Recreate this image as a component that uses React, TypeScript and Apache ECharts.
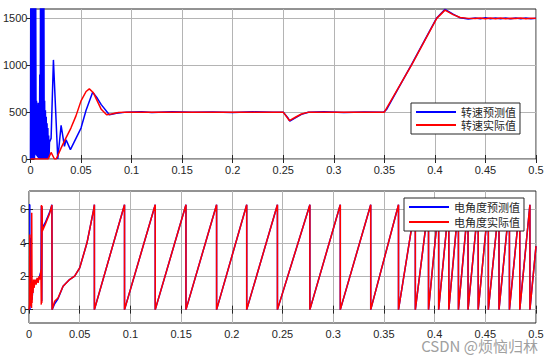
import React, { useEffect, useRef } from "react";
import * as echarts from "echarts";

// ---------- axis settings ----------
const xMin = 0;
const xMax = 0.5;
const xStep = 0.05;
const speedMin = 0;
const speedMax = 1600;
const speedTicks = [0, 500, 1000, 1500];
const angleMin = -0.8;
const angleMax = 7.1;
const angleTicks = [0, 2, 4, 6];

// ---------- legend names ----------
const speedNames = ["转速预测值", "转速实际值"];
const angleNames = ["电角度预测值", "电角度实际值"];

// ---------- speed (rpm) : [time s, value] ----------
const speedPred: [number, number][] = [
  [0, 0], [0.0004, 2400], [0.0008, 0], [0.0012, 2600], [0.0016, 0], [0.002, 2500],
  [0.0024, 0], [0.0028, 2300], [0.0032, 0], [0.0036, 2200], [0.004, 0], [0.0044, 2000],
  [0.0048, 50], [0.0052, 1700], [0.0056, 40], [0.006, 620], [0.0064, 30], [0.0068, 580],
  [0.0072, 20], [0.0076, 600], [0.008, 10], [0.0084, 560], [0.0088, 0], [0.0092, 900],
  [0.0096, 0], [0.01, 2200], [0.0104, 0], [0.0108, 2400], [0.0112, 0], [0.0116, 2600],
  [0.012, 0], [0.0124, 2500], [0.0128, 0], [0.0132, 2200], [0.0136, 0], [0.014, 620],
  [0.0144, 0], [0.0148, 520], [0.0152, 0], [0.0156, 450], [0.016, 0], [0.0164, 380],
  [0.0168, 0], [0.0172, 330], [0.0176, 0], [0.018, 250], [0.0184, 20], [0.0188, 180],
  [0.0204, 220], [0.0227, 1057], [0.027, 0], [0.0303, 358], [0.0336, 135], [0.0352, 205],
  [0.0395, 100], [0.045, 220], [0.05, 330], [0.055, 520], [0.0615, 713], [0.066, 650],
  [0.07, 580], [0.078, 472], [0.085, 488], [0.095, 500], [0.11, 503], [0.12, 497],
  [0.14, 503], [0.16, 498], [0.18, 502], [0.2, 497], [0.22, 503], [0.24, 499],
  [0.25, 500], [0.2545, 440], [0.2565, 405], [0.262, 438], [0.268, 476], [0.275, 499],
  [0.29, 503], [0.31, 497], [0.33, 502], [0.349, 498], [0.352, 525], [0.377, 1010],
  [0.4018, 1505], [0.41, 1596], [0.418, 1545], [0.425, 1506], [0.433, 1494], [0.44, 1503],
  [0.445, 1496], [0.45, 1506], [0.455, 1495], [0.46, 1505], [0.465, 1496], [0.47, 1504],
  [0.475, 1495], [0.48, 1505], [0.485, 1496], [0.49, 1504], [0.495, 1497], [0.5, 1502],
];

const speedReal: [number, number][] = [
  [0, 0], [0.0175, 0], [0.0204, 70], [0.0237, 0], [0.0255, 0], [0.03, 110],
  [0.0335, 190], [0.04, 330], [0.045, 460], [0.05, 620], [0.055, 720], [0.0582, 748],
  [0.062, 710], [0.066, 620], [0.07, 530], [0.0753, 472], [0.08, 480], [0.087, 495],
  [0.095, 500], [0.15, 500], [0.2, 500], [0.25, 500], [0.2561, 410], [0.262, 445],
  [0.268, 480], [0.275, 500], [0.3, 500], [0.35, 500], [0.377, 1003], [0.4018, 1500],
  [0.41, 1588], [0.418, 1540], [0.425, 1510], [0.433, 1500], [0.44, 1498], [0.445, 1503],
  [0.45, 1497], [0.455, 1504], [0.46, 1496], [0.465, 1503], [0.47, 1497], [0.475, 1502],
  [0.48, 1498], [0.485, 1503], [0.49, 1497], [0.495, 1502], [0.5, 1500],
];

// ---------- electrical angle (rad) ----------
const anglePredStart: [number, number][] = [
  [0, 6.28], [0.0008, 6.28], [0.0009, 0], [0.0012, 4.3], [0.0016, 0.3], [0.002, 1.2],
  [0.003, 0.6], [0.004, 1.4], [0.006, 1.7], [0.008, 1.8], [0.010, 1.9], [0.0118, 2.3],
  [0.0122, 6.2], [0.0126, 0.5], [0.0129, 6.1], [0.0131, 4.9], [0.016, 5.2],
  [0.0205, 5.85], [0.0226, 6.28], [0.0228, 0], [0.0253, 0.35], [0.0286, 0.65],
  [0.0336, 1.4], [0.04, 1.8], [0.045, 2.0], [0.05, 2.5], [0.0572, 4.0], [0.0638, 6.0],
];

const angleRealStart: [number, number][] = [
  [0, 0], [0.0005, 0.3], [0.0008, 4.5], [0.001, 0.5], [0.0015, 1.6], [0.0018, 0.2],
  [0.0022, 1.5], [0.0025, 0.1], [0.0027, 5.8], [0.003, 0.4], [0.0035, 1.5], [0.004, 1.0],
  [0.0045, 1.8], [0.005, 1.3], [0.006, 1.8], [0.007, 1.5], [0.008, 1.9], [0.009, 1.6],
  [0.01, 2.0], [0.011, 1.8], [0.0118, 2.4], [0.0121, 0.3], [0.0123, 6.26], [0.0126, 0.4],
  [0.0129, 6.2], [0.0131, 4.7], [0.016, 5.1], [0.0204, 5.76], [0.0226, 6.26], [0.0228, 0],
  [0.0253, 0.5], [0.0286, 0.7], [0.0336, 1.4], [0.04, 1.8], [0.045, 2.0], [0.05, 2.5],
  [0.0572, 4.0], [0.0638, 6.0],
];

// times where the angle wraps from 2π back to 0
const angleWraps = [
  0.0645, 0.0942, 0.1245, 0.1548, 0.185, 0.2147, 0.245, 0.277, 0.307, 0.337,
  0.3644, 0.381, 0.394, 0.404, 0.414, 0.4235, 0.433, 0.443, 0.453, 0.4635,
  0.4738, 0.484, 0.494,
];
const angleTop = 6.28;
const angleAtEnd = 3.8;

function buildAngle(start: [number, number][]): [number, number][] {
  const pts: [number, number][] = start.slice();
  for (let i = 0; i < angleWraps.length; i++) {
    pts.push([angleWraps[i], angleTop]);
    pts.push([angleWraps[i], 0]);
  }
  pts.push([xMax, angleAtEnd]);
  return pts;
}

const FONT = "'Liberation Sans', Arial, sans-serif";
const CJK = "'Noto Sans CJK SC', sans-serif";
const AX = "#262626";
const GRIDC = "#b4b4b4";

function xAxisCfg(gridIndex: number, top = false): any {
  return {
    type: "value",
    gridIndex,
    position: top ? "top" : "bottom",
    min: xMin,
    max: xMax,
    interval: xStep,
    axisLine: { show: false },
    axisTick: { show: true, inside: true, length: 4, lineStyle: { color: AX } },
    axisLabel: top
      ? { show: false }
      : {
          show: true,
          fontSize: 11,
          fontFamily: FONT,
          color: AX,
          margin: 5,
          formatter: (v: number) => String(+v.toFixed(2)),
        },
    splitLine: top ? { show: false } : { show: true, lineStyle: { color: GRIDC, width: 1 } },
  };
}

function yAxisCfg(gridIndex: number, min: number, max: number, ticks: number[], right = false): any {
  return {
    type: "value",
    gridIndex,
    position: right ? "right" : "left",
    min,
    max,
    axisLine: { show: false },
    axisTick: {
      show: true,
      inside: true,
      length: 4,
      lineStyle: { color: AX },
      customValues: ticks,
    },
    axisLabel: right
      ? { show: false, customValues: ticks }
      : {
          show: true,
          fontSize: 11,
          fontFamily: FONT,
          color: AX,
          margin: 3,
          customValues: ticks,
          formatter: (v: number) => String(v),
        },
    splitLine: right
      ? { show: false }
      : { show: true, customValues: ticks, lineStyle: { color: GRIDC, width: 1 } },
  };
}

function lineSeries(name: string, data: [number, number][], color: string, axisIdx: number): any {
  return {
    type: "line",
    name,
    data,
    xAxisIndex: axisIdx,
    yAxisIndex: axisIdx,
    showSymbol: false,
    symbol: "none",
    clip: true,
    lineStyle: { color, width: 1.5 },
    itemStyle: { color },
    emphasis: { disabled: true },
  };
}

export default function App() {
  const ref = useRef<HTMLDivElement>(null);
  useEffect(() => {
    if (!ref.current) return;
    const chart = echarts.init(ref.current, undefined, { renderer: "svg" });
    const legendBase = {
      orient: "vertical",
      icon: "rect",
      itemWidth: 40,
      itemHeight: 2,
      borderColor: AX,
      borderWidth: 1,
      backgroundColor: "#fff",
      selectedMode: false,
      textStyle: { fontSize: 11, fontFamily: CJK, color: AX, lineHeight: 12 },
    };
    chart.setOption({
      animation: false,
      backgroundColor: "#fff",
      grid: [
        { left: 29, top: 9, width: 507, height: 150, show: true, borderColor: AX, borderWidth: 1, backgroundColor: "#fff" },
        { left: 29, top: 191, width: 507, height: 132, show: true, borderColor: AX, borderWidth: 1, backgroundColor: "#fff" },
      ],
      xAxis: [xAxisCfg(0), xAxisCfg(1), xAxisCfg(0, true), xAxisCfg(1, true)],
      yAxis: [
        yAxisCfg(0, speedMin, speedMax, speedTicks),
        yAxisCfg(1, angleMin, angleMax, angleTicks),
        yAxisCfg(0, speedMin, speedMax, speedTicks, true),
        yAxisCfg(1, angleMin, angleMax, angleTicks, true),
      ],
      legend: [
        { ...legendBase, data: speedNames, left: 411, top: 103, padding: [3, 4, 3, 5], itemGap: 1 },
        { ...legendBase, data: angleNames, left: 404, top: 198, padding: [3, 4, 3, 5], itemGap: 3 },
      ],
      series: [
        lineSeries(speedNames[0], speedPred, "#0000ff", 0),
        lineSeries(speedNames[1], speedReal, "#ff0000", 0),
        lineSeries(angleNames[0], buildAngle(anglePredStart), "#0000ff", 1),
        lineSeries(angleNames[1], buildAngle(angleRealStart), "#ff0000", 1),
      ],
      graphic: [
        {
          type: "text",
          right: 16,
          top: 338,
          style: { text: "CSDN @烦恼归林", font: `15px ${CJK}`, fill: "#a0a0a0" },
        },
      ],
    });
    return () => chart.dispose();
  }, []);
  return (
    <div
      ref={ref}
      style={{ position: "fixed", left: 0, top: 0, width: 554, height: 363, background: "#fff" }}
    />
  );
}
